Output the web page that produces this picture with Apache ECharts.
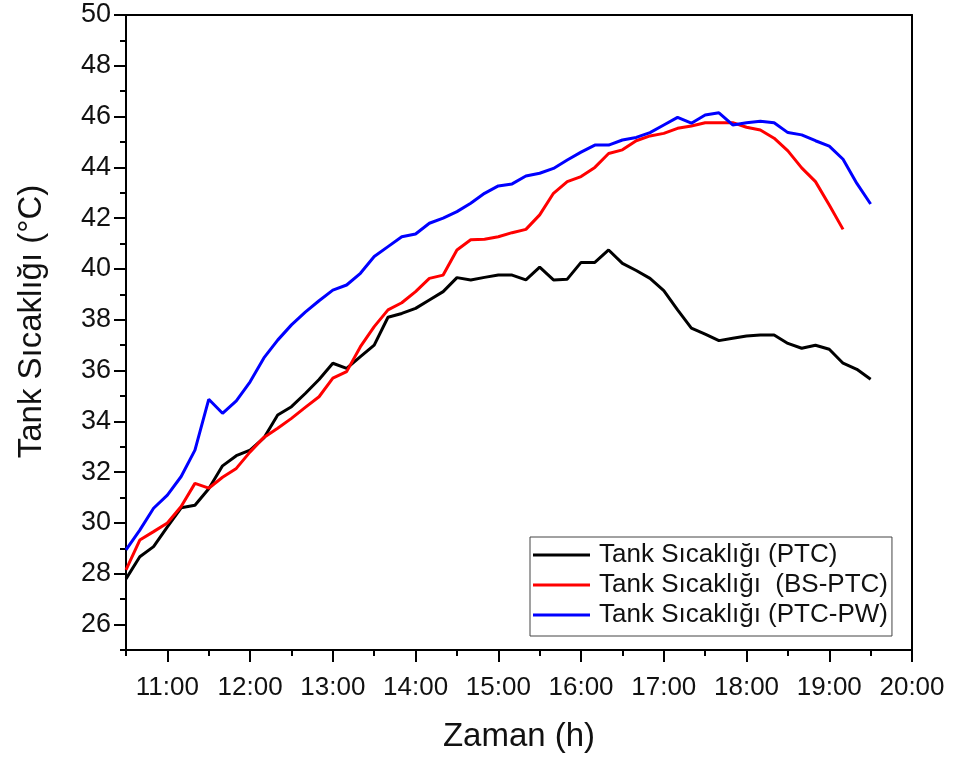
<!DOCTYPE html>
<html>
<head>
<meta charset="utf-8">
<script src="https://cdn.jsdelivr.net/npm/echarts@6/dist/echarts.min.js"></script>
<style>html,body{margin:0;padding:0;background:#fff}#c{width:955px;height:758px}</style>
</head>
<body>
<div id="c"></div>
<script>
// ---- data ----
const times = ["10:30","10:40","10:50","11:00","11:10","11:20","11:30","11:40","11:50","12:00","12:10","12:20","12:30","12:40","12:50","13:00","13:10","13:20","13:30","13:40","13:50","14:00","14:10","14:20","14:30","14:40","14:50","15:00","15:10","15:20","15:30","15:40","15:50","16:00","16:10","16:20","16:30","16:40","16:50","17:00","17:10","17:20","17:30","17:40","17:50","18:00","18:10","18:20","18:30","18:40","18:50","19:00","19:10","19:20","19:30"];
const ptc = [27.8,28.67,29.07,29.85,30.6,30.7,31.35,32.25,32.65,32.87,33.35,34.25,34.58,35.1,35.65,36.29,36.09,36.55,37.0,38.1,38.25,38.45,38.78,39.11,39.66,39.57,39.67,39.76,39.76,39.57,40.07,39.57,39.6,40.26,40.26,40.75,40.22,39.94,39.63,39.15,38.39,37.67,37.44,37.18,37.27,37.36,37.4,37.4,37.07,36.88,37.0,36.84,36.29,36.05,35.66];
const bsptc = [28.15,29.33,29.66,30.0,30.65,31.56,31.37,31.8,32.15,32.8,33.37,33.73,34.12,34.55,34.97,35.7,35.96,36.94,37.73,38.39,38.67,39.11,39.63,39.76,40.75,41.15,41.17,41.27,41.43,41.56,42.13,42.98,43.44,43.64,44.0,44.55,44.69,45.05,45.24,45.34,45.54,45.63,45.76,45.76,45.76,45.58,45.47,45.15,44.65,43.98,43.44,42.52,41.56];
const ptcpw = [28.94,29.72,30.58,31.1,31.83,32.87,34.87,34.32,34.81,35.56,36.5,37.2,37.8,38.3,38.75,39.17,39.37,39.83,40.49,40.88,41.27,41.38,41.8,42.0,42.26,42.59,42.98,43.27,43.35,43.66,43.77,43.96,44.29,44.6,44.88,44.88,45.08,45.18,45.37,45.67,45.97,45.74,46.06,46.15,45.67,45.76,45.82,45.76,45.37,45.28,45.05,44.84,44.32,43.37,42.56];
const seriesNames = ["Tank Sıcaklığı (PTC)","Tank Sıcaklığı  (BS-PTC)","Tank Sıcaklığı (PTC-PW)"];
const xTickHours = [11,12,13,14,15,16,17,18,19,20];
const xMinorHours = [10.5,11.5,12.5,13.5,14.5,15.5,16.5,17.5,18.5,19.5];
const yTicks = [26,28,30,32,34,36,38,40,42,44,46,48,50];
const yMinor = [25,27,29,31,33,35,37,39,41,43,45,47,49];

// ---- build ----
const toHour = s => { const [h,m] = s.split(':').map(Number); return h + m/60; };
const pairs = vals => vals.map((v,i) => [toHour(times[i]), v]);
const FONT = 'Liberation Sans, Arial, sans-serif';
const lineC = '#000';

const chart = echarts.init(document.getElementById('c'), null, {renderer:'canvas'});
chart.setOption({
  animation:false,
  backgroundColor:'#fff',
  grid:{left:126,right:43,top:15,bottom:108,containLabel:false},
  xAxis:[
    {type:'value',min:10.5,max:20,position:'bottom',
     axisLine:{show:true,onZero:false,lineStyle:{color:lineC,width:2}},
     axisTick:{show:true,customValues:xTickHours,length:12,lineStyle:{color:lineC,width:2}},
     axisLabel:{show:true,customValues:xTickHours,formatter:v=>Math.round(v)+':00',fontSize:26,color:'#111',fontFamily:FONT,margin:25},
     splitLine:{show:false},
     name:'Zaman (h)',nameLocation:'middle',nameGap:70,nameTextStyle:{fontSize:33,color:'#111',fontFamily:FONT}},
    {type:'value',min:10.5,max:20,position:'bottom',
     axisLine:{show:false,onZero:false},
     axisTick:{show:true,customValues:xMinorHours,length:6,lineStyle:{color:lineC,width:2}},
     axisLabel:{show:false},splitLine:{show:false}},
    {type:'value',min:10.5,max:20,position:'top',
     axisLine:{show:true,onZero:false,lineStyle:{color:lineC,width:2}},
     axisTick:{show:false},axisLabel:{show:false},splitLine:{show:false}}
  ],
  yAxis:[
    {type:'value',min:25,max:50,position:'left',
     axisLine:{show:true,onZero:false,lineStyle:{color:lineC,width:2}},
     axisTick:{show:true,customValues:yTicks,length:12,lineStyle:{color:lineC,width:2}},
     axisLabel:{show:true,customValues:yTicks,fontSize:27,color:'#111',fontFamily:FONT,margin:15},
     splitLine:{show:false},
     name:'Tank Sıcaklığı (°C)',nameLocation:'middle',nameGap:78,nameTextStyle:{fontSize:33,color:'#111',fontFamily:FONT,padding:[0,0,0,22]}},
    {type:'value',min:25,max:50,position:'left',
     axisLine:{show:false,onZero:false},
     axisTick:{show:true,customValues:yMinor,length:6,lineStyle:{color:lineC,width:2}},
     axisLabel:{show:false},splitLine:{show:false}},
    {type:'value',min:25,max:50,position:'right',
     axisLine:{show:true,onZero:false,lineStyle:{color:lineC,width:2}},
     axisTick:{show:false},axisLabel:{show:false},splitLine:{show:false}}
  ],
  legend:{
    show:true,orient:'vertical',left:530,top:537,
    data:seriesNames.map(n=>({name:n,icon:'rect'})),
    itemWidth:57,itemHeight:3,itemGap:4,
    padding:[5,4,8,3],
    borderColor:'#444',borderWidth:1,backgroundColor:'#fff',
    textStyle:{fontSize:26,lineHeight:26,color:'#111',fontFamily:FONT,padding:[0,0,0,4]}
  },
  series:[
    {name:seriesNames[0],type:'line',data:pairs(ptc),showSymbol:false,symbol:'none',lineStyle:{color:'#000',width:3},itemStyle:{color:'#000'},z:3},
    {name:seriesNames[1],type:'line',data:pairs(bsptc),showSymbol:false,symbol:'none',lineStyle:{color:'#ff0000',width:3},itemStyle:{color:'#ff0000'},z:4},
    {name:seriesNames[2],type:'line',data:pairs(ptcpw),showSymbol:false,symbol:'none',lineStyle:{color:'#0000ff',width:3},itemStyle:{color:'#0000ff'},z:5}
  ]
});
</script>
</body>
</html>
